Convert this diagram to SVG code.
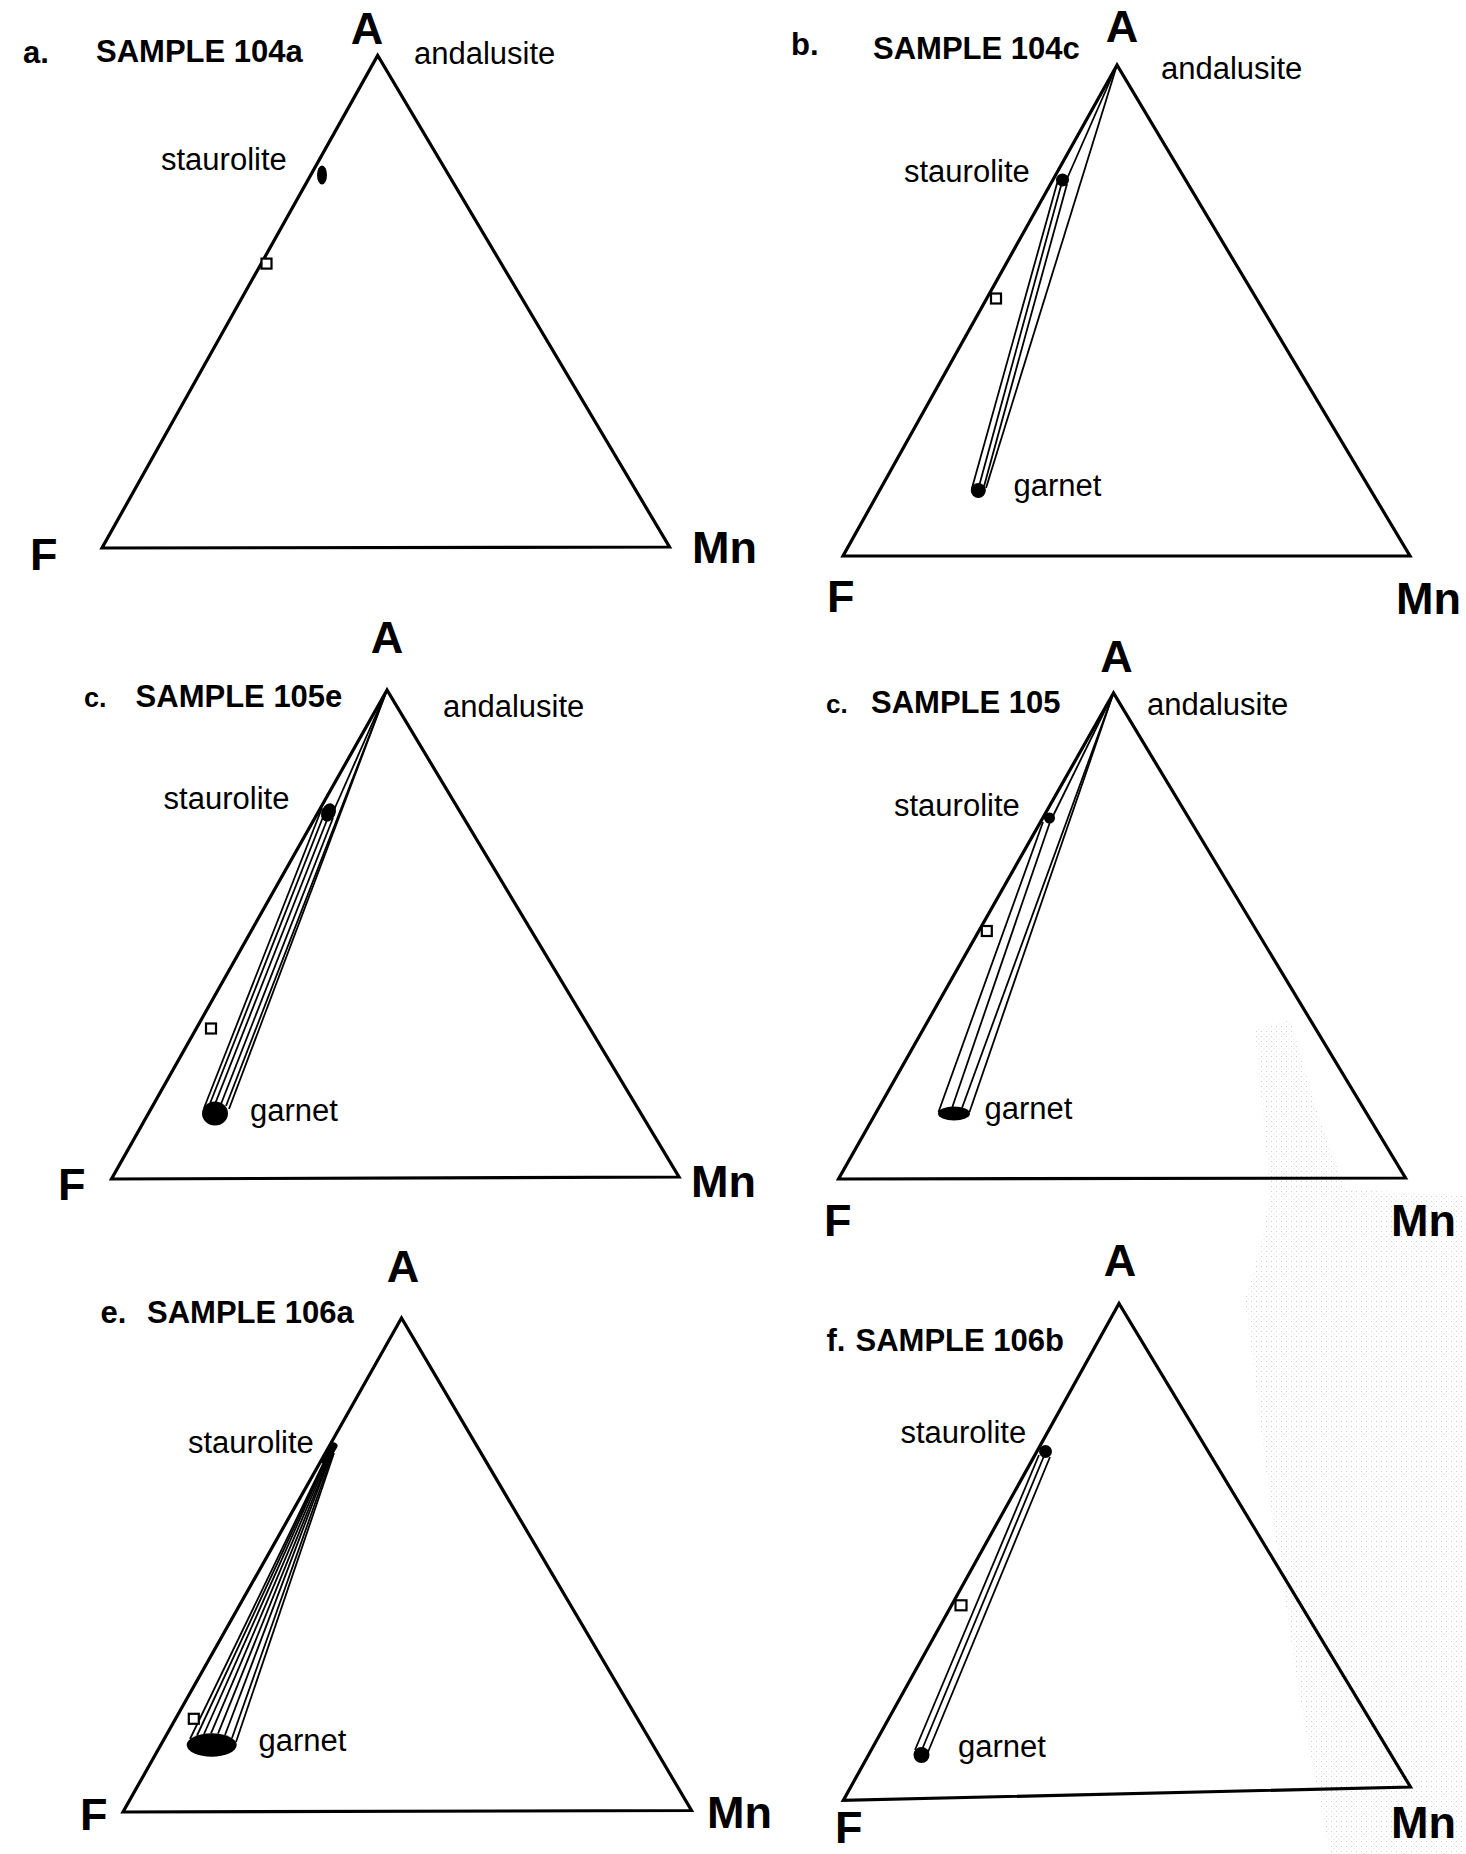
<svg xmlns="http://www.w3.org/2000/svg" width="1466" height="1854" viewBox="0 0 1466 1854">
<style>
.tri{fill:none;stroke:#000;stroke-width:3.2;stroke-linejoin:miter}
.tie{fill:none;stroke:#000;stroke-width:1.8}
.sq{fill:#fff;stroke:#000;stroke-width:2.2}
.dot{fill:#000}
text{font-family:"Liberation Sans",Arial,Helvetica,sans-serif;fill:#000}
.ttl{font-size:31px;font-weight:bold}
.lbl{font-size:31px}
.cor{font-size:45px;font-weight:bold}
</style>
<defs>
  <pattern id="stip" width="5" height="5" patternUnits="userSpaceOnUse">
    <rect x="1" y="1" width="1" height="1" fill="#b8b8b8"/>
    <rect x="3.5" y="3.5" width="1" height="1" fill="#d0d0d0"/>
  </pattern>
</defs>
<rect width="1466" height="1854" fill="#fff"/>
<g id="scan-texture" opacity="0.7">
  <path d="M1255,1030 L1290,1020 L1320,1120 L1345,1190 L1466,1195 L1466,1854 L1330,1854 L1300,1700 L1270,1500 L1245,1300 L1262,1240 L1270,1190 Z" fill="url(#stip)"/>
</g>

<!-- Panel a -->
<g id="panel-a">
  <polygon class="tri" points="377.7,55.4 102,548 669.5,547"/>
  <text class="cor" x="367" y="44" text-anchor="middle">A</text>
  <text class="cor" x="30" y="570">F</text>
  <text class="cor" x="692" y="563">Mn</text>
  <text class="ttl" x="23" y="63">a.</text>
  <text class="ttl" x="96" y="62">SAMPLE 104a</text>
  <text class="lbl" x="414" y="64">andalusite</text>
  <text class="lbl" x="161" y="170">staurolite</text>
  <ellipse class="dot" cx="322" cy="175" rx="5" ry="9.5"/>
  <rect class="sq" x="261.5" y="258.6" width="10" height="10"/>
</g>

<!-- Panel b -->
<g id="panel-b">
  <polygon class="tri" points="1117,65 843,556 1410,556"/>
  <g id="ties-b">
    <line class="tie" x1="1117" y1="65" x2="1066" y2="181"/>
    <line class="tie" x1="1117" y1="65" x2="986" y2="488"/>
    <line class="tie" x1="1058" y1="180" x2="972" y2="488"/>
    <line class="tie" x1="1062" y1="182" x2="978" y2="490"/>
    <line class="tie" x1="1067" y1="184" x2="983" y2="490"/>
  </g>
  <text class="cor" x="1122" y="42" text-anchor="middle">A</text>
  <text class="cor" x="827" y="612">F</text>
  <text class="cor" x="1396" y="614">Mn</text>
  <text class="ttl" x="791" y="55">b.</text>
  <text class="ttl" x="873" y="58.5">SAMPLE 104c</text>
  <text class="lbl" x="1161" y="79">andalusite</text>
  <text class="lbl" x="904" y="182">staurolite</text>
  <circle class="dot" cx="1062.5" cy="180" r="6.5"/>
  <rect class="sq" x="991" y="293.5" width="10" height="10"/>
  <circle class="dot" cx="978.3" cy="490.5" r="7.5"/>
  <text class="lbl" x="1013.5" y="496">garnet</text>
</g>

<!-- Panel c (105e) -->
<g id="panel-c">
  <polygon class="tri" points="387,690 111.5,1179 679,1177"/>
  <g id="ties-c">
    <line class="tie" x1="387" y1="690" x2="334" y2="810"/>
    <line class="tie" x1="322" y1="808" x2="204" y2="1108"/>
    <line class="tie" x1="325" y1="812" x2="209" y2="1106"/>
    <line class="tie" x1="329" y1="815" x2="215" y2="1104"/>
    <line class="tie" x1="333" y1="818" x2="221" y2="1104"/>
    <line class="tie" x1="387" y1="690" x2="226" y2="1106"/>
    <line class="tie" x1="387" y1="690" x2="229" y2="1109"/>
  </g>
  <text class="cor" x="387" y="653" text-anchor="middle">A</text>
  <text class="cor" x="58" y="1200">F</text>
  <text class="cor" x="691" y="1196.5">Mn</text>
  <text class="ttl" x="84" y="707" style="font-size:27px">c.</text>
  <text class="ttl" x="135.6" y="707">SAMPLE 105e</text>
  <text class="lbl" x="443" y="716.5">andalusite</text>
  <text class="lbl" x="163.6" y="809">staurolite</text>
  <ellipse class="dot" cx="328.5" cy="812.5" rx="7" ry="9.5" transform="rotate(25 328.5 812.5)"/>
  <rect class="sq" x="206" y="1023.5" width="10" height="10"/>
  <ellipse class="dot" cx="215" cy="1113.5" rx="13" ry="12"/>
  <text class="lbl" x="250" y="1121">garnet</text>
</g>

<!-- Panel d (105) -->
<g id="panel-d">
  <polygon class="tri" points="1113.5,693 838.5,1179 1405.5,1178"/>
  <g id="ties-d">
    <line class="tie" x1="1113.5" y1="693" x2="1052" y2="818"/>
    <line class="tie" x1="1043" y1="822" x2="938.5" y2="1112"/>
    <line class="tie" x1="1050" y1="822" x2="952" y2="1108"/>
    <line class="tie" x1="1113.5" y1="693" x2="962" y2="1108"/>
    <line class="tie" x1="1113.5" y1="693" x2="969.5" y2="1112"/>
  </g>
  <text class="cor" x="1116.5" y="671.5" text-anchor="middle">A</text>
  <text class="cor" x="824" y="1236">F</text>
  <text class="cor" x="1391" y="1236">Mn</text>
  <text class="ttl" x="826" y="713" style="font-size:26px">c.</text>
  <text class="ttl" x="871" y="713">SAMPLE 105</text>
  <text class="lbl" x="1147" y="715">andalusite</text>
  <text class="lbl" x="894" y="815.5">staurolite</text>
  <circle class="dot" cx="1049.5" cy="818" r="5.5"/>
  <rect class="sq" x="981.8" y="926" width="10" height="10"/>
  <ellipse class="dot" cx="954" cy="1113.5" rx="16" ry="7"/>
  <text class="lbl" x="984.5" y="1118.5">garnet</text>
</g>

<!-- Panel e (106a) -->
<g id="panel-e">
  <polygon class="tri" points="401.5,1318 123,1812 691.5,1810.5"/>
  <g id="ties-e">
    <line class="tie" x1="325" y1="1460" x2="190" y2="1739"/>
    <line class="tie" x1="326" y1="1459" x2="197" y2="1735.5"/>
    <line class="tie" x1="327" y1="1458" x2="204" y2="1734"/>
    <line class="tie" x1="328.5" y1="1457" x2="211" y2="1733.3"/>
    <line class="tie" x1="330" y1="1456" x2="218" y2="1733.7"/>
    <line class="tie" x1="331" y1="1455" x2="225" y2="1735"/>
    <line class="tie" x1="332.5" y1="1454" x2="232" y2="1738"/>
    <line class="tie" x1="334" y1="1453" x2="236" y2="1742"/>
  </g>
  <line x1="325" y1="1461" x2="334" y2="1446" stroke="#000" stroke-width="7" stroke-linecap="round"/>
  <text class="cor" x="403" y="1281.7" text-anchor="middle">A</text>
  <text class="cor" x="80" y="1830">F</text>
  <text class="cor" x="707" y="1828">Mn</text>
  <text class="ttl" x="100.5" y="1323.4">e.</text>
  <text class="ttl" x="147" y="1323.4">SAMPLE 106a</text>
  <text class="lbl" x="188" y="1452.6">staurolite</text>
  <rect class="sq" x="188.8" y="1713.8" width="10" height="10"/>
  <ellipse class="dot" cx="211.7" cy="1745" rx="25" ry="11.7"/>
  <text class="lbl" x="258.5" y="1751">garnet</text>
</g>

<!-- Panel f (106b) -->
<g id="panel-f">
  <polygon class="tri" points="1119,1303.5 843.3,1800.4 1410.5,1787"/>
  <g id="ties-f">
    <line class="tie" x1="1039" y1="1455" x2="915" y2="1750"/>
    <line class="tie" x1="1044" y1="1456" x2="921" y2="1752"/>
    <line class="tie" x1="1050" y1="1457" x2="928" y2="1752"/>
  </g>
  <text class="cor" x="1120" y="1276" text-anchor="middle">A</text>
  <text class="cor" x="835" y="1843">F</text>
  <text class="cor" x="1391" y="1838">Mn</text>
  <text class="ttl" x="826.5" y="1351">f.</text>
  <text class="ttl" x="855.5" y="1351">SAMPLE 106b</text>
  <text class="lbl" x="900.4" y="1442.7">staurolite</text>
  <circle class="dot" cx="1045.5" cy="1451.5" r="6.5"/>
  <rect class="sq" x="955.5" y="1600.3" width="11" height="10"/>
  <circle class="dot" cx="921.5" cy="1755" r="8"/>
  <text class="lbl" x="958" y="1756.7">garnet</text>
</g>
</svg>
